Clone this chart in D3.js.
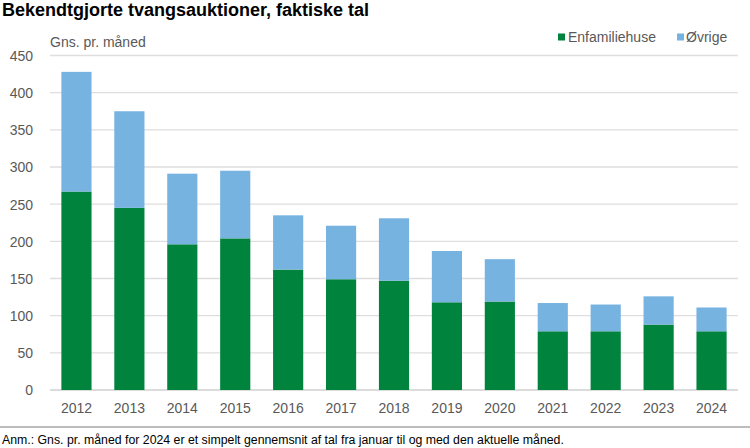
<!DOCTYPE html>
<html><head><meta charset="utf-8">
<script src="https://cdn.jsdelivr.net/npm/d3@7"></script>
<style>
body{margin:0;background:#fff;}
svg{display:block;}
</style></head>
<body>
<svg id="chart" width="750" height="448"></svg>
<script>
const years = ["2012","2013","2014","2015","2016","2017","2018","2019","2020","2021","2022","2023","2024"];
const enfamiliehuse = [267,245,196,204,162,149,147,118,119,79,79,88,79];
const ovrige = [161,130,95,91,73,72,84,69,57,38,36,38,32];
const yTicks = [0,50,100,150,200,250,300,350,400,450];
const seriesNames = ["Enfamiliehuse","Øvrige"];
const colors = ["#00843d","#77b3e1"];

const narrow = "'Liberation Sans Narrow','Arial Narrow','Liberation Sans',Arial,sans-serif";
const svg = d3.select("#chart");
const x = d3.scaleBand().domain(years).range([50,738]).paddingInner(0.43).paddingOuter(0.215);
const y = d3.scaleLinear().domain([0,450]).range([390,55.5]);

// gridlines
svg.append("g").selectAll("line").data(yTicks).join("line")
  .attr("x1",50).attr("x2",738)
  .attr("y1",d=>y(d)).attr("y2",d=>y(d))
  .attr("stroke",d=>d===0?"#d0d0d0":"#dedede").attr("stroke-width",1.3);

// stacked bars
const data = years.map((yr,i)=>({year:yr, Enfamiliehuse:enfamiliehuse[i], "Øvrige":ovrige[i]}));
const stack = d3.stack().keys(seriesNames)(data);
svg.append("g").selectAll("g").data(stack).join("g")
  .attr("fill",(d,i)=>colors[i])
  .selectAll("rect").data(d=>d).join("rect")
  .attr("x",d=>x(d.data.year)).attr("width",x.bandwidth())
  .attr("y",d=>y(d[1])).attr("height",d=>y(d[0])-y(d[1]));

// y axis
const yAxis = d3.axisLeft(y).tickValues(yTicks).tickSize(0).tickPadding(0);
const ya = svg.append("g").attr("transform","translate(33,0)").call(yAxis);
ya.select(".domain").remove();
ya.selectAll("text").attr("font-family",narrow).attr("font-size",14).attr("fill","#595959").attr("dy","0.35em");

// x axis
const xAxis = d3.axisBottom(x).tickSize(0).tickPadding(0);
const xa = svg.append("g").attr("transform","translate(0,403)").call(xAxis);
xa.select(".domain").remove();
xa.selectAll("text").attr("font-family",narrow).attr("font-size",14).attr("fill","#595959").attr("dy","0.71em");

// title
svg.append("text").attr("x",2).attr("y",16).text("Bekendtgjorte tvangsauktioner, faktiske tal")
  .attr("font-family","'Liberation Sans',Arial,sans-serif").attr("font-weight","bold").attr("font-size",18).attr("fill","#000");

// unit label
svg.append("text").attr("x",50).attr("y",47).text("Gns. pr. måned")
  .attr("font-family",narrow).attr("font-size",14).attr("fill","#595959");

// legend
const leg = [{x:558,tx:568},{x:677,tx:686}];
seriesNames.forEach((n,i)=>{
  svg.append("rect").attr("x",leg[i].x).attr("y",33.5).attr("width",7).attr("height",7).attr("fill",colors[i]);
  svg.append("text").attr("x",leg[i].tx).attr("y",37.5).attr("dy","0.35em").text(n)
    .attr("font-family",narrow).attr("font-size",14).attr("fill","#595959");
});

// separator
svg.append("line").attr("x1",0).attr("x2",750).attr("y1",427).attr("y2",427).attr("stroke","#a6a6a6").attr("stroke-width",1.5);

// note
svg.append("text").attr("x",2).attr("y",443.5).text("Anm.: Gns. pr. måned for 2024 er et simpelt gennemsnit af tal fra januar til og med den aktuelle måned.")
  .attr("font-family","'Liberation Sans',Arial,sans-serif").attr("font-size",12.3).attr("fill","#000");
</script>
</body></html>
